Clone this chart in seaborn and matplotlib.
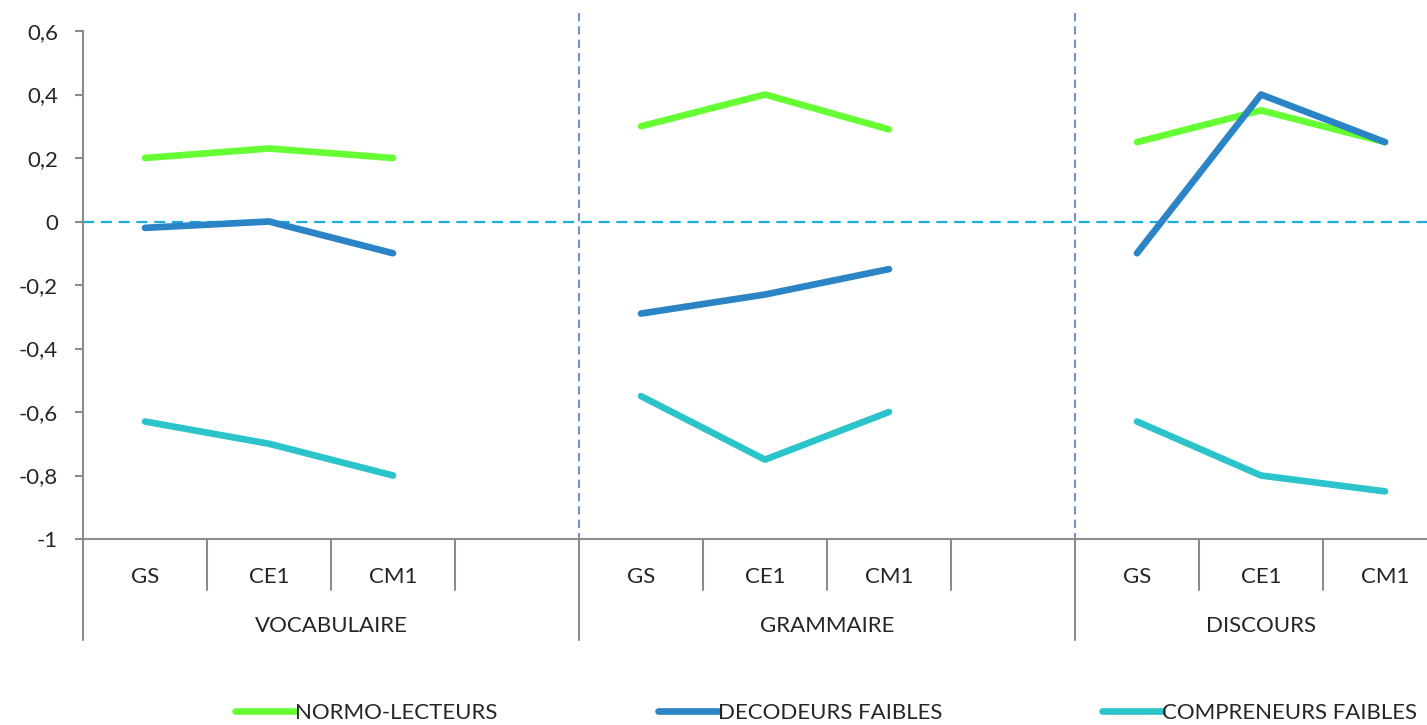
import matplotlib
matplotlib.use('Agg')
import matplotlib.pyplot as plt
import matplotlib.transforms as mtransforms
import pandas as pd
import seaborn as sns

# data
domains = ['VOCABULAIRE', 'GRAMMAIRE', 'DISCOURS']
levels = ['GS', 'CE1', 'CM1']
series = ['NORMO-LECTEURS', 'DECODEURS FAIBLES', 'COMPRENEURS FAIBLES']
normo = [0.20, 0.23, 0.20, 0.30, 0.40, 0.29, 0.25, 0.35, 0.25]
decodeurs = [-0.02, 0.00, -0.10, -0.29, -0.23, -0.15, -0.10, 0.40, 0.25]
compreneurs = [-0.63, -0.70, -0.80, -0.55, -0.75, -0.60, -0.63, -0.80, -0.85]
y_ticks = [0.6, 0.4, 0.2, 0, -0.2, -0.4, -0.6, -0.8, -1]
y_labels = ['0,6', '0,4', '0,2', '0', '-0,2', '-0,4', '-0,6', '-0,8', '-1']

colors = ['#66FF33', '#2A84C6', '#2BC4CA']
GRAY = '#8C8C8C'
FS = 16

rows = []
for name, vals in zip(series, [normo, decodeurs, compreneurs]):
    for i, v in enumerate(vals):
        g, k = divmod(i, 3)
        rows.append({'series': name, 'domain': domains[g], 'level': levels[k],
                     'pos': g * 4 + k, 'value': v})
df = pd.DataFrame(rows)

sns.set_style('white')
plt.rcParams['font.family'] = ['Lato', 'DejaVu Sans']

W, H = 1427, 725
fig = plt.figure(figsize=(W / 100, H / 100), dpi=100)
# plot area: left 83px, top 31px, bottom 539px, 11 slots of 124px (runs past the right edge)
ax = fig.add_axes([83 / W, 1 - 539 / H, 11 * 124 / W, 508 / H])

sns.lineplot(data=df, x='pos', y='value', hue='series', units='domain', estimator=None,
             palette=colors, hue_order=series, linewidth=4.8, ax=ax,
             solid_capstyle='round', solid_joinstyle='round', legend=True)

ax.set_xlim(-0.5, 10.5)
ax.set_ylim(-1, 0.6)
ax.set_xlabel('')
ax.set_ylabel('')

for side in ['top', 'right']:
    ax.spines[side].set_visible(False)
for side in ['left', 'bottom']:
    ax.spines[side].set_color(GRAY)
    ax.spines[side].set_linewidth(1.5)

ax.set_yticks(y_ticks)
ax.set_yticklabels(y_labels)
ax.tick_params(axis='y', length=6, width=1.5, color=GRAY, pad=12, labelsize=FS, direction='out', left=True)

# category labels under the axis
cat_pos = [g * 4 + k for g in range(3) for k in range(3)]
ax.set_xticks(cat_pos)
ax.set_xticklabels(levels * 3)
ax.tick_params(axis='x', length=0, pad=20, labelsize=FS)

trans = mtransforms.blended_transform_factory(ax.transData, ax.transAxes)
for b in [0.5, 1.5, 2.5, 4.5, 5.5, 6.5, 8.5, 9.5]:
    ax.plot([b, b], [0, -51 / 508], color=GRAY, lw=1.5, transform=trans, clip_on=False)
for b in [-0.5, 3.5, 7.5]:
    ax.plot([b, b], [0, -101 / 508], color=GRAY, lw=1.5, transform=trans, clip_on=False)
for g, d in enumerate(domains):
    ax.text(g * 4 + 1.5 if g < 2 else 9, -87 / 508, d, transform=trans,
            ha='center', va='center', fontsize=FS)

# reference lines
ax.axhline(0, color='#1CADE4', lw=1.6, ls=(0, (5, 3)), zorder=1)
for b in [3.5, 7.5]:
    ax.plot([b, b], [1 + 18 / 508, -11 / 508], color='#4F81BD', lw=1.2, ls=(0, (5, 3)),
            transform=trans, clip_on=False, zorder=1)

ax.get_legend().remove()
handles, labels = ax.get_legend_handles_labels()
for h in handles:
    h.set_linewidth(4.8)
    h.set_solid_capstyle('round')
fig.legend(handles, labels, loc='center', bbox_to_anchor=(826 / W, 1 - 713 / H),
           ncol=3, frameon=False, fontsize=FS, handlelength=2.7, handletextpad=0.0,
           columnspacing=7.2)

fig.savefig('out.png', dpi=100)
